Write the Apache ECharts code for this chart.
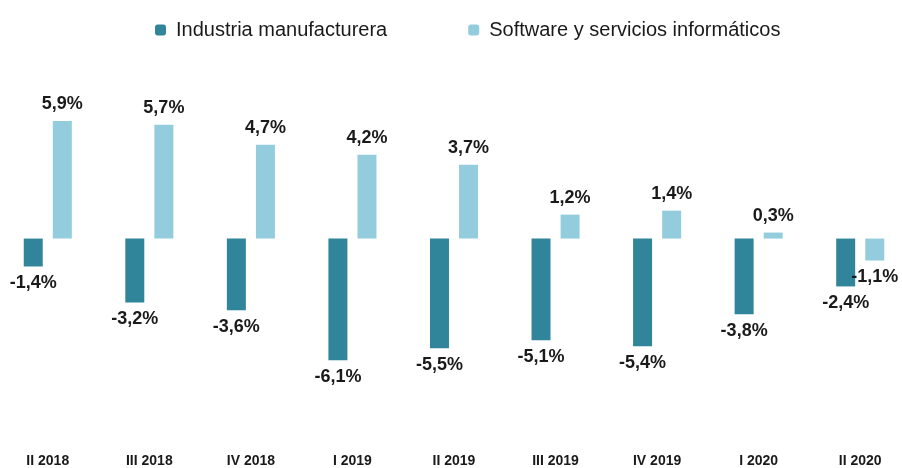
<!DOCTYPE html>
<html>
<head>
<meta charset="utf-8">
<script src="https://cdn.jsdelivr.net/npm/echarts@6/dist/echarts.min.js"></script>
<style>
  html, body { margin: 0; padding: 0; background: #fff; overflow: hidden; }
  #main { position: absolute; left: -3px; top: 0; width: 914px; height: 468px; }
</style>
</head>
<body>
<div id="main"></div>
<script>
// datos
var categorias = ['II 2018', 'III 2018', 'IV 2018', 'I 2019', 'II 2019', 'III 2019', 'IV 2019', 'I 2020', 'II 2020'];
var industria = [-1.4, -3.2, -3.6, -6.1, -5.5, -5.1, -5.4, -3.8, -2.4];
var software = [5.9, 5.7, 4.7, 4.2, 3.7, 1.2, 1.4, 0.3, -1.1];

var fuente = '"Liberation Sans Narrow", "Liberation Sans", Arial, sans-serif';

function conEtiqueta(valores) {
    return valores.map(function (v) {
        return { value: v, label: { position: v < 0 ? 'bottom' : 'top' } };
    });
}

function porcentaje(p) {
    return String(p.value).replace('.', ',') + '%';
}

var myChart = echarts.init(document.getElementById('main'));

var option = {
    animation: false,
    legend: {
        top: 15,
        left: 153,
        itemWidth: 11,
        itemHeight: 11,
        itemGap: 81,
        textStyle: { fontFamily: fuente, fontSize: 20, color: '#1a1a1a', padding: [0, 0, 0, 5] },
        data: ['Industria manufacturera', 'Software y servicios informáticos']
    },
    grid: { left: 0, right: 0, top: 79, height: 360 },
    xAxis: {
        type: 'category',
        data: categorias,
        axisLine: { show: false, onZero: false },
        axisTick: { show: false },
        axisLabel: {
            margin: 16,
            fontFamily: fuente,
            fontSize: 14,
            fontWeight: 'bold',
            color: '#1a1a1a'
        }
    },
    yAxis: {
        type: 'value',
        min: -10,
        max: 8,
        interval: 2,
        show: false,
        splitLine: { show: false }
    },
    series: [
        {
            name: 'Industria manufacturera',
            type: 'bar',
            barWidth: 19,
            barGap: '53%',
            itemStyle: { color: '#31859b' },
            label: {
                show: true,
                distance: 8,
                fontFamily: fuente,
                fontSize: 18,
                fontWeight: 'bold',
                color: '#1a1a1a',
                formatter: porcentaje
            },
            data: conEtiqueta(industria)
        },
        {
            name: 'Software y servicios informáticos',
            type: 'bar',
            barWidth: 19,
            itemStyle: { color: '#93cddd' },
            label: {
                show: true,
                distance: 8,
                fontFamily: fuente,
                fontSize: 18,
                fontWeight: 'bold',
                color: '#1a1a1a',
                formatter: porcentaje
            },
            data: conEtiqueta(software)
        }
    ]
};

myChart.setOption(option);
</script>
</body>
</html>
